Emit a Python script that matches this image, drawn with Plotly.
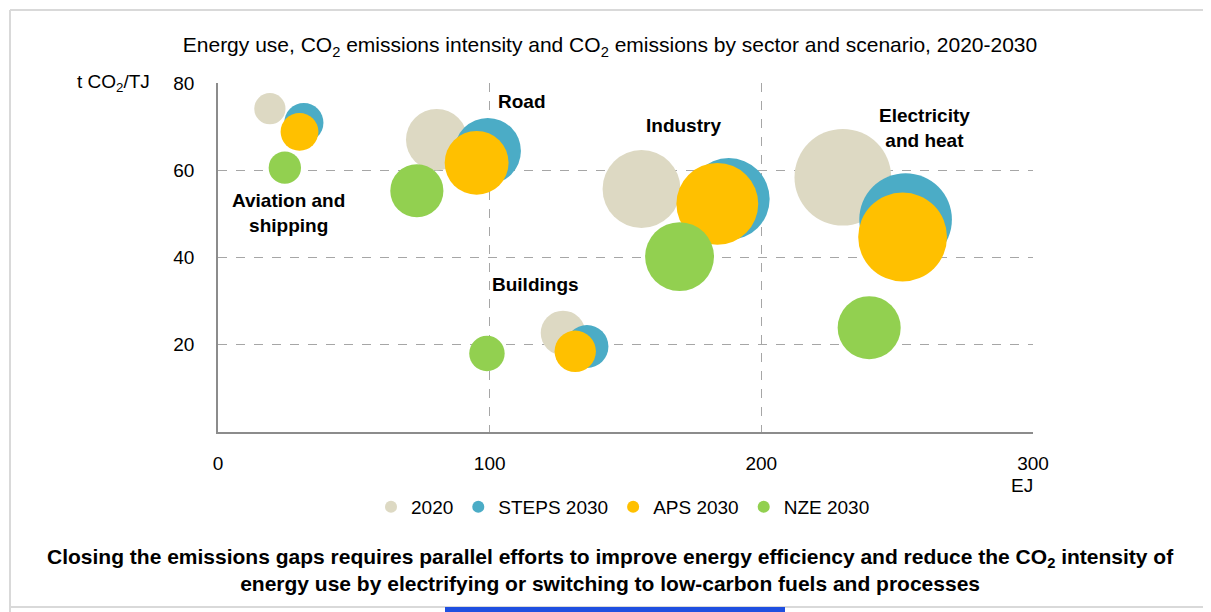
import plotly.graph_objects as go

sectors = ["Aviation and shipping", "Road", "Industry", "Electricity and heat", "Buildings"]
scenarios = ["2020", "STEPS 2030", "APS 2030", "NZE 2030"]
colors = ["#DDD9C3", "#4BACC6", "#FFC000", "#92D050"]
legend_colors = ["#C4BD97", "#4BACC6", "#FFC000", "#92D050"]

# Energy use (EJ) per scenario, in sector order
energy = {
    "2020":       [19.1, 80.5, 155.9, 230.0, 127.0],
    "STEPS 2030": [31.6, 99.3, 188.0, 253.1, 135.8],
    "APS 2030":   [30.0, 95.2, 183.8, 252.0, 131.5],
    "NZE 2030":   [24.6, 73.2, 169.9, 239.7, 99.0],
}
# CO2 intensity (t CO2/TJ)
intensity = {
    "2020":       [74.1, 67.0, 55.7, 58.4, 22.7],
    "STEPS 2030": [70.9, 64.4, 53.4, 48.7, 19.6],
    "APS 2030":   [68.8, 61.7, 52.3, 44.7, 18.5],
    "NZE 2030":   [60.6, 55.3, 40.2, 23.9, 18.0],
}
# CO2 emissions (Gt) -> bubble area
emissions = {
    "2020":       [1.40, 5.40, 8.70, 13.40, 2.85],
    "STEPS 2030": [2.20, 6.30, 9.60, 12.30, 2.65],
    "APS 2030":   [2.05, 5.85, 9.60, 11.30, 2.45],
    "NZE 2030":   [1.50, 4.05, 6.80, 5.70, 1.80],
}

sector_labels = ["Aviation and<br>shipping", "Road", "Industry", "Electricity<br>and heat", "Buildings"]
label_x = [26, 112, 171.5, 260, 117]
label_y = [50.3, 75.7, 70.3, 69.6, 33.7]

x_ticks = [0, 100, 200, 300]
y_ticks = [20, 40, 60, 80]

FONT = "Liberation Sans, Arial, sans-serif"

fig = go.Figure()
for sc, col in zip(scenarios, colors):
    fig.add_trace(go.Scatter(
        x=energy[sc], y=intensity[sc], mode="markers", name=sc,
        text=sectors,
        marker=dict(size=emissions[sc], sizemode="area", sizeref=1.93 / 25.95**2,
                    color=col, opacity=1, line=dict(width=0)),
    ))

for t, xx, yy in zip(sector_labels, label_x, label_y):
    fig.add_annotation(x=xx, y=yy, text=f"<b>{t}</b>", showarrow=False,
                       font=dict(size=19, color="#000", family=FONT))

OFF = 8  # page body margin
W, H = 1211, 612
L, T = 218 - OFF, 83 - OFF
R = W - (1033 - OFF)
B = H - (432 - OFF)
ph = H - T - B
pw = W - L - R

def px(x):
    return (x - OFF - L) / pw

def py(y):
    return (H - B - (y - OFF)) / ph

fig.add_annotation(xref="paper", yref="paper", x=px(113), y=py(83), xanchor="center", yanchor="middle",
                   text="t CO<sub>2</sub>/TJ", showarrow=False,
                   font=dict(size=19, color="#000", family=FONT))
fig.add_annotation(xref="paper", yref="paper", x=px(1022), y=py(485), xanchor="center", yanchor="middle",
                   text="EJ", showarrow=False,
                   font=dict(size=19, color="#000", family=FONT))
fig.add_annotation(xref="paper", yref="paper", x=px(610), y=py(570), xanchor="center", yanchor="middle",
                   text="<b>Closing the emissions gaps requires parallel efforts to improve energy efficiency and reduce the CO<sub>2</sub> intensity of<br>energy use by electrifying or switching to low-carbon fuels and processes</b>",
                   showarrow=False, align="center",
                   font=dict(size=21, color="#000", family=FONT))

# frame lines
fig.add_shape(type="line", xref="paper", yref="paper", x0=px(10), x1=px(1220), y0=py(10), y1=py(10),
              line=dict(color="#D9D9D9", width=2))
fig.add_shape(type="line", xref="paper", yref="paper", x0=px(10), x1=px(10), y0=py(10), y1=py(620),
              line=dict(color="#D9D9D9", width=2))
fig.add_shape(type="line", xref="paper", yref="paper", x0=px(10), x1=px(1220), y0=py(607), y1=py(607),
              line=dict(color="#D9D9D9", width=2))
fig.add_shape(type="line", xref="paper", yref="paper", x0=px(445), x1=px(785), y0=py(610), y1=py(610),
              line=dict(color="#1F4FE0", width=6))

fig.update_layout(
    width=W, height=H,
    margin=dict(l=L, r=R, t=T, b=B),
    paper_bgcolor="white", plot_bgcolor="white",
    font=dict(family=FONT, size=19, color="#000"),
    title=dict(text="Energy use, CO<sub>2</sub> emissions intensity and CO<sub>2</sub> emissions by sector and scenario, 2020-2030",
               x=(610 - OFF) / W, xanchor="center", y=1 - (45 - OFF) / H, yanchor="middle", yref="container",
               font=dict(size=21, color="#000", family=FONT)),
    showlegend=True,
    legend=dict(orientation="h", x=px(623), xanchor="center", y=py(507), yanchor="middle",
                itemsizing="constant", font=dict(size=19, family=FONT), bgcolor="rgba(0,0,0,0)"),
    xaxis=dict(range=[0, 300], tickvals=x_ticks, showgrid=True, gridcolor="#A6A6A6",
               griddash="dash", gridwidth=1, zeroline=False, showline=True, linecolor="#8C8C8C",
               linewidth=1.5, ticks="", ticklabelstandoff=13, tickfont=dict(size=19)),
    yaxis=dict(range=[0, 80], tickvals=y_ticks, showgrid=True, gridcolor="#A6A6A6",
               griddash="dash", gridwidth=1, zeroline=False, showline=True, linecolor="#8C8C8C",
               linewidth=1.5, ticks="", ticklabelstandoff=18, tickfont=dict(size=19)),
)

fig.write_html("out.html")
